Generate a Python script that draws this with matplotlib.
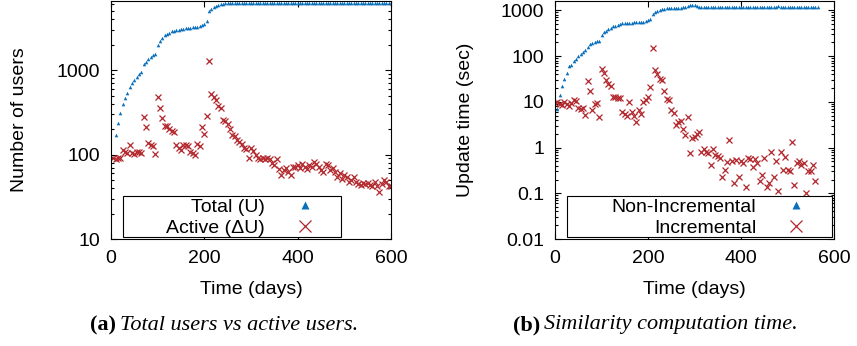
import numpy as np
import matplotlib
matplotlib.use('Agg')
import matplotlib.pyplot as plt
from matplotlib.patches import Rectangle
from matplotlib.ticker import LogLocator, NullFormatter

plt.rcParams['font.family'] = ['Liberation Sans', 'DejaVu Sans']

# ---- (a) users ----
days_total = np.arange(10, 605, 5)
total_users = [
    171, 240, 312, 396, 470, 538, 624, 696,
    762, 834, 897, 955, 1178, 1254, 1349, 1437, 1517, 1559,
    1976, 2204, 2437, 2576, 2692, 2767, 2873, 2920, 2973, 3033,
    3070, 3100, 3130, 3160, 3190, 3220, 3250, 3290, 3345, 3436,
    3573, 3800, 5036, 5320, 5540, 5760, 5920, 6050, 6130, 6180,
    6200, 6210, 6220, 6220, 6220, 6220, 6220, 6220, 6220, 6220,
    6220, 6220, 6220, 6220, 6220, 6220, 6220, 6220, 6220, 6220,
    6220, 6220, 6220, 6220, 6220, 6220, 6220, 6220, 6220, 6220,
    6220, 6220, 6220, 6220, 6220, 6220, 6220, 6220, 6220, 6220,
    6220, 6220, 6220, 6220, 6220, 6220, 6220, 6220, 6220, 6220,
    6220, 6220, 6220, 6220, 6220, 6220, 6220, 6220, 6220, 6220,
    6220, 6220, 6220, 6220, 6220, 6220, 6220, 6220, 6220, 6220,
    6220,
]

days_active = np.arange(5, 605, 5)
active_users = [
    90, 88, 92, 90, 112, 108, 105, 130, 105, 102,
    108, 108, 104, 280, 210, 136, 130, 125, 103, 483,
    352, 275, 220, 220, 200, 190, 185, 130, 120, 112,
    130, 130, 128, 108, 105, 100, 135, 128, 210, 175,
    290, 1300, 520, 480, 440, 380, 360, 260, 250, 230,
    200, 170, 165, 150, 140, 135, 120, 118, 90, 120,
    110, 100, 92, 88, 92, 88, 90, 88, 80, 75,
    88, 68, 58, 65, 70, 62, 58, 72, 72, 75,
    70, 78, 72, 68, 76, 72, 82, 78, 72, 65,
    62, 78, 75, 65, 70, 62, 55, 60, 52, 58,
    55, 48, 50, 55, 48, 45, 44, 46, 45, 46,
    44, 42, 48, 42, 36, 45, 50, 48, 43, 42,
]

# ---- (b) update time ----
days_nonincr = np.arange(5, 570, 5)
nonincr_time = [
    7.1, 14.4, 22.7, 32, 43, 62, 64, 77, 86, 99,
    109, 121, 139, 158, 181, 194, 204, 210, 218, 289,
    331, 360, 391, 419, 448, 463, 490, 502, 517, 525,
    533, 533, 541, 549, 549, 549, 558, 566, 585, 625,
    658, 846, 920, 967, 1035, 1060, 1090, 1105, 1120, 1130,
    1140, 1140, 1145, 1150, 1160, 1170, 1220, 1320, 1340, 1290,
    1220, 1190, 1180, 1175, 1170, 1170, 1170, 1170, 1170, 1170,
    1170, 1170, 1170, 1170, 1170, 1170, 1170, 1170, 1170, 1170,
    1170, 1170, 1170, 1170, 1170, 1170, 1170, 1170, 1170, 1170,
    1170, 1175, 1180, 1190, 1200, 1230, 1210, 1190, 1180, 1180,
    1180, 1180, 1180, 1180, 1180, 1180, 1180, 1180, 1180, 1180,
    1180, 1180, 1180,
]

days_incr = np.arange(0, 565, 5)
incr_time = [
    9.5, 10, 9, 8.5, 10, 9, 8, 9.5, 11, 10.5,
    7.2, 7, 7.5, 5.2, 28, 17, 6.5, 9, 9.5, 4.6,
    52, 42, 30, 24, 22, 13, 13, 12, 12, 6,
    5.5, 5, 10, 6, 4.8, 3.7, 6.5, 5.5, 10, 11,
    13, 21, 150, 50, 40, 32, 30, 17, 11.8, 10.8,
    6.7, 5.6, 3.1, 3.7, 3.8, 2.6, 1.9, 4.7, 0.77, 1.6,
    1.7, 2.0, 2.2, 0.81, 0.91, 0.8, 0.75, 0.42, 0.91, 0.69,
    0.65, 0.6, 0.23, 0.32, 0.49, 1.45, 0.5, 0.165, 0.53, 0.23,
    0.5, 0.45, 0.14, 0.6, 0.55, 0.38, 0.55, 0.45, 0.19, 0.25,
    0.6, 0.14, 0.165, 0.81, 0.23, 0.5, 0.11, 0.8, 0.32, 0.63,
    0.32, 0.3, 1.35, 0.15, 0.45, 0.5, 0.42, 0.45, 0.1, 0.3,
    0.3, 0.42, 0.19,
]

blue = '#0b70bb'
red = '#b2282d'
fs = 14

fig = plt.figure(figsize=(8.57, 3.46), dpi=100)
ax1 = fig.add_axes([111 / 857, 0.3092, 280 / 857, 0.6879])
ax2 = fig.add_axes([555 / 857, 0.3092, 279 / 857, 0.6879])


def style_axis(ax):
    ax.set_yscale('log')
    ax.set_xlim(0, 600)
    ax.set_xticks([0, 200, 400, 600])
    ax.yaxis.set_minor_locator(LogLocator(base=10, subs=np.arange(2, 10)))
    ax.yaxis.set_minor_formatter(NullFormatter())
    ax.tick_params(which='both', direction='in', top=True, right=True,
                   labelsize=fs, width=0.8)
    ax.tick_params(which='major', length=4.5)
    ax.tick_params(which='minor', length=2.5)
    ax.tick_params(axis='y', pad=8)
    ax.tick_params(axis='x', pad=8)
    for s in ax.spines.values():
        s.set_linewidth(0.8)


def boxed_legend(ax, handles, labels, right):
    ax.add_patch(Rectangle((0.043, 0.008), right - 0.043, 0.172,
                           transform=ax.transAxes, facecolor='white',
                           edgecolor='black', lw=0.8, zorder=4))
    leg = ax.legend(handles, labels, loc='lower right',
                    bbox_to_anchor=(right - 0.059, 0.01),
                    frameon=False, markerfirst=False, handlelength=2,
                    handletextpad=1.06, borderpad=0, borderaxespad=0,
                    labelspacing=0.15, fontsize=fs)
    leg.set_zorder(5)
    leg.legend_handles[0].set_markersize(6)
    leg.legend_handles[1].set_markersize(8)
    leg.legend_handles[1].set_markeredgewidth(0.9)


# (a)
h1, = ax1.plot(days_total, total_users, ls='none', marker='^', ms=2.6,
               color=blue, mec='none')
h2, = ax1.plot(days_active, active_users, ls='none', marker='x', ms=4.8,
               mew=0.9, color=red)
style_axis(ax1)
ax1.set_ylim(10, 6600)
ax1.set_yticks([10, 100, 1000])
ax1.set_yticklabels(['10', '100', '1000'])
ax1.set_xlabel('Time (days)', fontsize=fs)
ax1.set_ylabel('Number of users', fontsize=fs)
ax1.xaxis.set_label_coords(0.5, -0.175)
ax1.yaxis.set_label_coords(-0.297, 0.5)
boxed_legend(ax1, [h1, h2], ['Total (U)', 'Active (\u0394U)'], 0.821)

# (b)
g1, = ax2.plot(days_nonincr, nonincr_time, ls='none', marker='^', ms=2.6,
               color=blue, mec='none')
g2, = ax2.plot(days_incr, incr_time, ls='none', marker='x', ms=4.8,
               mew=0.9, color=red)
style_axis(ax2)
ax2.set_ylim(0.01, 1600)
ax2.set_yticks([0.01, 0.1, 1, 10, 100, 1000])
ax2.set_yticklabels(['0.01', '0.1', '1', '10', '100', '1000'])
ax2.set_xlabel('Time (days)', fontsize=fs)
ax2.set_ylabel('Update time (sec)', fontsize=fs)
ax2.xaxis.set_label_coords(0.5, -0.175)
ax2.yaxis.set_label_coords(-0.292, 0.5)
boxed_legend(ax2, [g1, g2], ['Non-Incremental', 'Incremental'], 0.994)

# captions
cap_y = 1 - 325 / 346
cfs = 16
serif = ['Liberation Serif', 'DejaVu Serif']
fig.text(116 / 857, cap_y, '(a)', ha='right', va='center', fontsize=cfs,
         fontweight='bold', family=serif)
fig.text(120 / 857, cap_y, 'Total users vs active users.', ha='left',
         va='center', fontsize=cfs, style='italic', family=serif)
fig.text(540 / 857, cap_y, '(b)', ha='right', va='center', fontsize=cfs,
         fontweight='bold', family=serif)
fig.text(544 / 857, cap_y, 'Similarity computation time.', ha='left',
         va='center', fontsize=cfs, style='italic', family=serif)

fig.savefig('out.png', dpi=100)
